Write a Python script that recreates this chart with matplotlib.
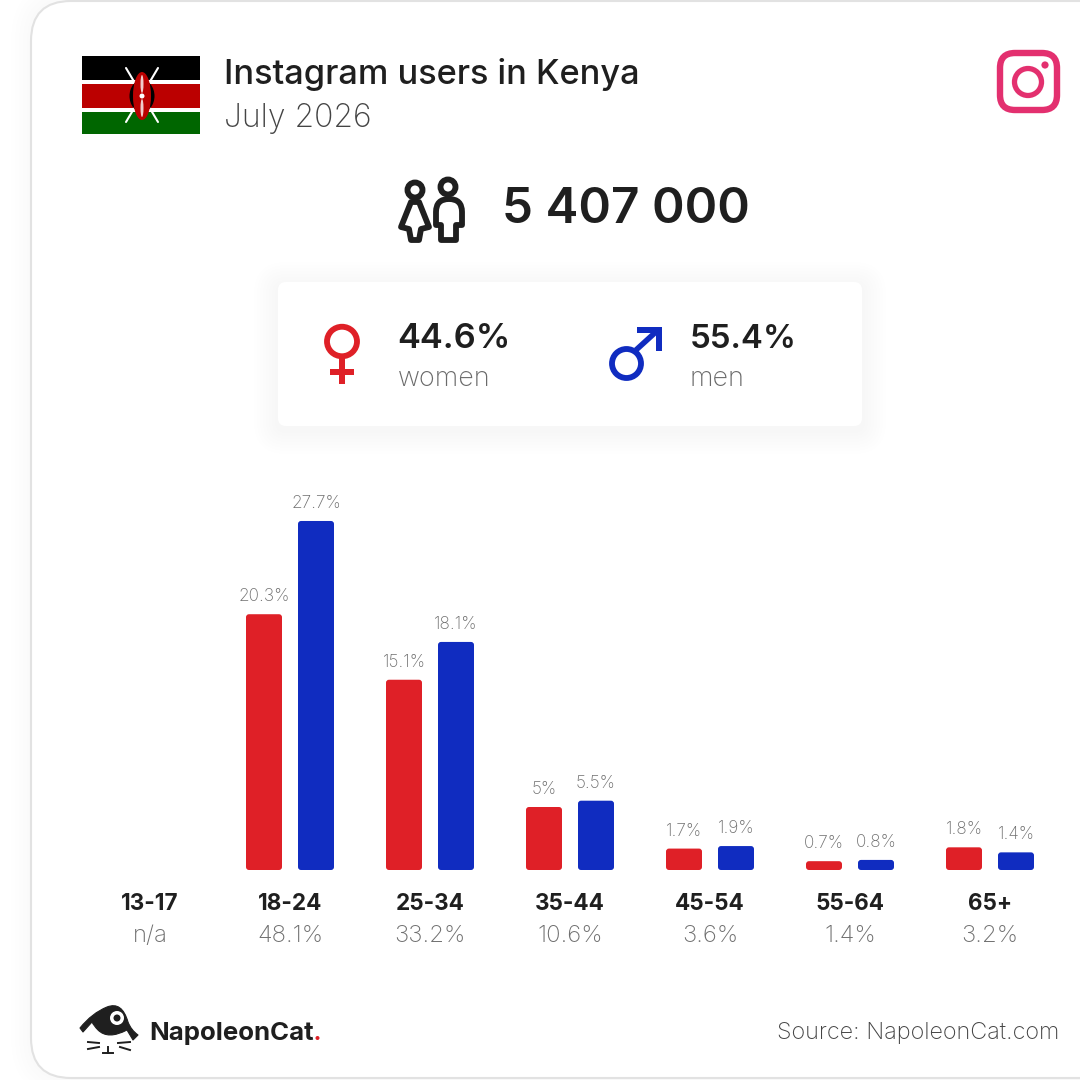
import numpy as np
import matplotlib
matplotlib.use("Agg")
import matplotlib.pyplot as plt
from matplotlib.patches import Circle, Ellipse, FancyBboxPatch, PathPatch, Polygon, Rectangle
from matplotlib.path import Path

ages = ["13-17", "18-24", "25-34", "35-44", "45-54", "55-64", "65+"]
shares = ["n/a", "48.1%", "33.2%", "10.6%", "3.6%", "1.4%", "3.2%"]
women = [np.nan, 20.3, 15.1, 5.0, 1.7, 0.7, 1.8]
men = [np.nan, 27.7, 18.1, 5.5, 1.9, 0.8, 1.4]

RED = "#df2027"
BLUE = "#102cc0"
INK = "#1f1f1f"
GRAY = "#6a6a6a"
PINK = "#e3306f"
FONT = "Inter"

plt.rcParams["font.family"] = [FONT, "DejaVu Sans"]

fig = plt.figure(figsize=(10.8, 10.8), dpi=100, facecolor="white")

# page layer, in image pixels
bg = fig.add_axes([0, 0, 1, 1])
bg.set_xlim(0, 1080)
bg.set_ylim(1080, 0)
bg.axis("off")


def label(x, y, s, px, weight="normal", color=INK, ha="left"):
    bg.text(x, y, s, fontsize=px * 0.72, fontweight=weight, color=color,
            ha=ha, va="center_baseline")


def rounded(x0, y0, x1, y1, r, **kw):
    bg.add_patch(FancyBboxPatch((x0, y0), x1 - x0, y1 - y0,
                                boxstyle=f"round,pad=0,rounding_size={r}", **kw))


# card with a faint outer glow
for grow in range(20, 0, -4):
    rounded(31 - grow, 1 - grow, 1200, 1078 + grow, 40 + grow, fc="black", alpha=0.005, lw=0)
rounded(31, 1, 1200, 1078, 40, fc="white", ec="#e2e2e2", lw=1.5)

# flag
bg.add_patch(Rectangle((82, 56), 118, 24, fc="black", lw=0))
bg.add_patch(Rectangle((82, 84), 118, 24, fc="#bb0000", lw=0))
bg.add_patch(Rectangle((82, 112), 118, 22, fc="#006600", lw=0))
for sx in (-1, 1):
    bg.plot([142 + sx * 16, 142 - sx * 16], [68, 122], color="white", lw=1.5,
            solid_capstyle="round", zorder=1)
bg.add_patch(Ellipse((142, 96), 25, 32, fc="black", lw=0, zorder=1.1))
bg.add_patch(Ellipse((142, 96), 18, 48, fc="#bb0000", lw=0, zorder=1.2))
bg.add_patch(Ellipse((142, 84), 3, 18, fc="white", alpha=0.8, lw=0, zorder=1.3))
bg.add_patch(Ellipse((142, 108), 3, 18, fc="white", alpha=0.8, lw=0, zorder=1.3))
bg.add_patch(Circle((142, 96), 2.5, fc="white", lw=0, zorder=1.3))

label(224, 71, "Instagram users in Kenya", 34.3, "medium")
label(224, 115, "July 2026", 32, "light", "#444444")

# instagram mark
rounded(1000, 53, 1057, 110, 15, fc="none", ec=PINK, lw=4.6)
bg.add_patch(Circle((1028, 82), 13.5, fc="none", ec=PINK, lw=3.8))
bg.add_patch(Circle((1045, 65), 3.6, fc=PINK, lw=0))

# people icon
bg.add_patch(Circle((415, 190), 7.5, fc="none", ec=INK, lw=4.2))
bg.add_patch(Circle((448, 187), 7.5, fc="none", ec=INK, lw=4.2))
bg.add_patch(Polygon([(411, 202), (419, 202), (429, 227), (421, 229), (419, 240),
                      (411, 240), (409, 229), (401, 227)],
                     closed=True, fc="none", ec=INK, lw=4.2, joinstyle="round"))
bg.add_patch(PathPatch(Path([(441, 240), (441, 225), (436, 225), (436, 212),
                             (436, 199), (449, 199), (462, 199), (462, 212),
                             (462, 225), (456, 225), (456, 240), (441, 240)],
                            [Path.MOVETO, Path.LINETO, Path.LINETO, Path.LINETO,
                             Path.CURVE3, Path.CURVE3, Path.CURVE3, Path.CURVE3,
                             Path.LINETO, Path.LINETO, Path.LINETO, Path.CLOSEPOLY]),
                       fc="none", ec=INK, lw=4.2, joinstyle="round"))
label(502, 205, "5 407 000", 49.4, "semibold")

# gender box with a soft shadow
for grow in range(24, 0, -3):
    rounded(278 - grow, 286 - grow, 862 + grow, 430 + grow, 8 + grow,
            fc="black", alpha=0.005, lw=0)
rounded(278, 282, 862, 426, 8, fc="white", lw=0)

bg.add_patch(Ellipse((342, 341.5), 30, 29.5, fc="none", ec=RED, lw=4.2))
bg.add_patch(Rectangle((339, 358), 6, 26, fc=RED, lw=0))
bg.add_patch(Rectangle((330, 369), 24, 6, fc=RED, lw=0))
label(397, 336, "44.6%", 34.5, "semibold")
label(398, 376, "women", 27, "light", GRAY)

bg.add_patch(Ellipse((626.5, 363.5), 29, 29, fc="none", ec=BLUE, lw=4.2))
bg.plot([636, 658], [350, 330], color=BLUE, lw=4, solid_capstyle="butt")
bg.add_patch(Polygon([(637, 327), (662, 327), (662, 351), (656, 351), (656, 333),
                      (637, 333)], closed=True, fc=BLUE, lw=0))
label(690, 336, "55.4%", 33, "semibold")
label(690, 376, "men", 27, "light", GRAY)

# logo
bg.add_patch(PathPatch(Path([(80, 1028), (92, 1013), (107, 1007), (122, 1001),
                             (128, 1022), (131, 1030), (138, 1035), (133, 1040),
                             (127, 1030), (108, 1040), (98, 1030), (94, 1026),
                             (92, 1022), (83, 1032), (80, 1028)],
                            [Path.MOVETO, Path.CURVE3, Path.CURVE3, Path.CURVE3,
                             Path.CURVE3, Path.CURVE3, Path.CURVE3, Path.LINETO,
                             Path.LINETO, Path.CURVE3, Path.CURVE3, Path.CURVE3,
                             Path.CURVE3, Path.LINETO, Path.CLOSEPOLY]),
                       fc=INK, ec=INK, lw=0.8, joinstyle="round"))
bg.add_patch(Circle((117, 1018), 7, fc="white", lw=0))
bg.add_patch(Circle((117, 1018), 3.5, fc=INK, lw=0))
for x0, y0, x1, y1 in [(88, 1042, 99, 1043), (88, 1049, 99, 1047),
                       (118, 1043, 130, 1042), (120, 1047, 130, 1050),
                       (108, 1047, 108, 1053), (103, 1053, 113, 1053)]:
    bg.plot([x0, x1], [y0, y1], color=INK, lw=1.4)
label(149, 1031, "NapoleonCat", 25.8, "bold")
bg.add_patch(Circle((317.5, 1038), 2, fc=RED, lw=0))
label(1059, 1031, "Source: NapoleonCat.com", 23.4, "light", "#444444", ha="right")

# bars: one category = 140 px, one percent = 12.6 px, baseline at y = 870
bars = fig.add_axes([80 / 1080, 210 / 1080, 980 / 1080, 378 / 1080], facecolor="none")
bars.set_xlim(-0.5, 6.5)
bars.set_ylim(0, 30)
bars.axis("off")

WIDTH = 36 / 140
OFFSET = 26 / 140
ASPECT = 140 / 12.6
for i in range(len(ages)):
    for sign, vals, col in [(-1, women, RED), (1, men, BLUE)]:
        v = vals[i]
        if np.isnan(v):
            continue
        x = i + sign * OFFSET
        bars.add_patch(FancyBboxPatch((x - WIDTH / 2, 0), WIDTH, v,
                                      boxstyle=f"round,pad=0,rounding_size={3 / 140}",
                                      mutation_aspect=ASPECT, fc=col, lw=0))
        bars.annotate(f"{v:g}%", (x, v), xytext=(0, 14), textcoords="offset points",
                      ha="center", va="center_baseline", fontsize=12.4,
                      fontweight="light", color="#6f6f6f", annotation_clip=False)
    bars.annotate(ages[i], (i, 0), xytext=(0, -23), textcoords="offset points",
                  ha="center", va="center_baseline", fontsize=16.2,
                  fontweight="bold", color=INK, annotation_clip=False)
    bars.annotate(shares[i], (i, 0), xytext=(0, -46), textcoords="offset points",
                  ha="center", va="center_baseline", fontsize=17.2,
                  fontweight="light", color="#6f6f6f", annotation_clip=False)

fig.savefig("out.png", dpi=100, facecolor="white")
